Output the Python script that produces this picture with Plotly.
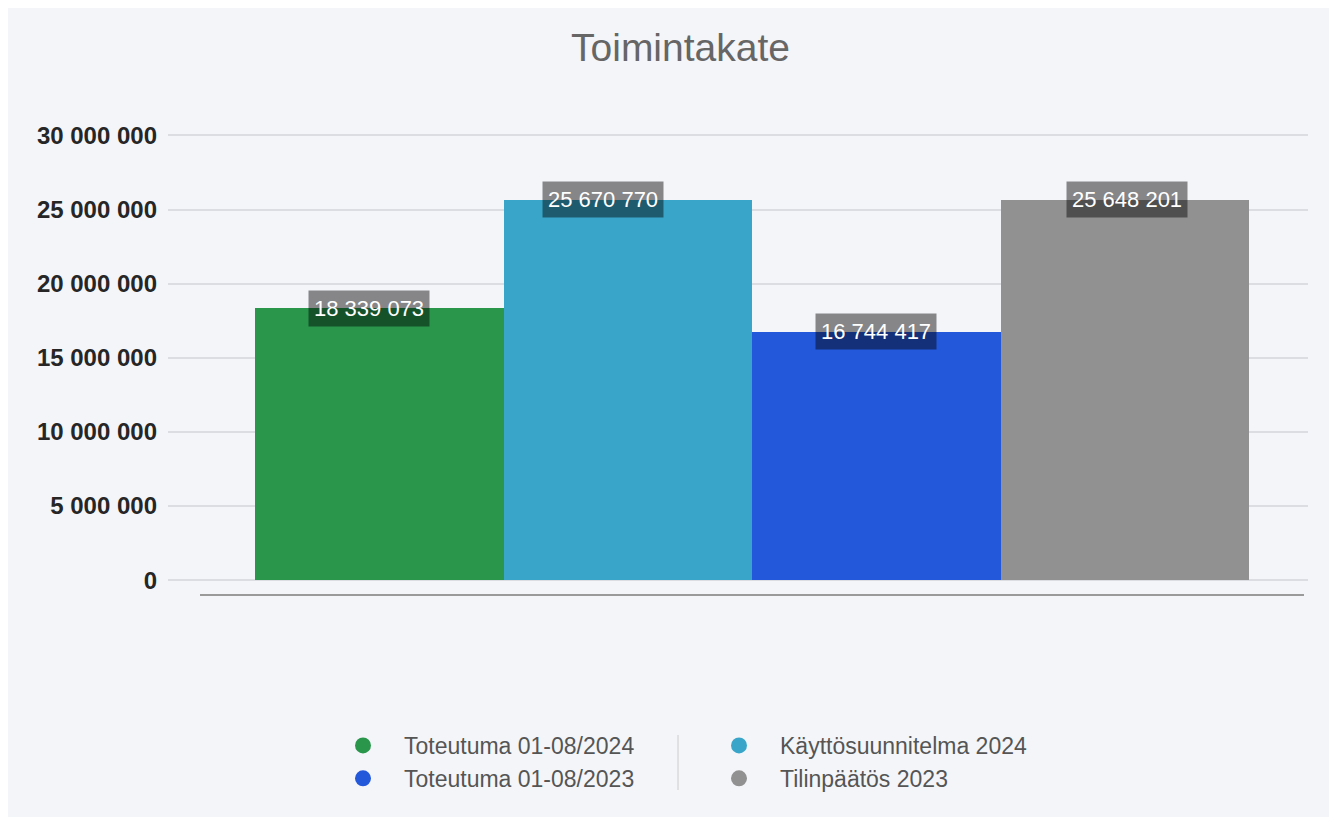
import plotly.graph_objects as go

series = ["Toteutuma 01-08/2024", "Käyttösuunnitelma 2024", "Toteutuma 01-08/2023", "Tilinpäätös 2023"]
values = [18339073, 25670770, 16744417, 25648201]
colors = ["#29964c", "#39a6c9", "#2458db", "#919191"]
legend_groups = ["legend", "legend2", "legend", "legend2"]
label_xshift = [-10, -25, 0, 2]
tick_vals = [0, 5000000, 10000000, 15000000, 20000000, 25000000, 30000000]

def fmt(v):
    return f"{v:,}".replace(",", " ")

FONT = "Liberation Sans, Arial"

fig = go.Figure()
for name, v, c in zip(series, values, colors):
    fig.add_trace(go.Bar(x=[name], y=[v], marker=dict(color=c, line=dict(width=0)),
                         showlegend=False, name=name, hoverinfo="skip"))

# legend entries (circle markers)
order = [0, 2, 1, 3]
for i in order:
    fig.add_trace(go.Scatter(x=[series[i]], y=[None], mode="markers", name=series[i],
                             marker=dict(color=colors[i], size=20, symbol="circle"),
                             legend=legend_groups[i], hoverinfo="skip"))

for name, v, sh in zip(series, values, label_xshift):
    fig.add_annotation(x=name, y=v, text=fmt(v), showarrow=False, xshift=sh,
                       yanchor="middle", font=dict(color="white", size=22, family=FONT),
                       bgcolor="rgba(0,0,0,0.45)", borderpad=5)

legend_common = dict(orientation="v", xref="container", yref="container", xanchor="left",
                     y=1 - 716 / 817, yanchor="top", font=dict(size=23, color="#555", family=FONT),
                     bgcolor="rgba(0,0,0,0)", itemwidth=72, tracegroupgap=0)

# plot area: x 168..1308, y 128..595 on screen (page has an 8px offset)
L, T = 160, 120
PW, PH = 1140, 467

fig.update_layout(
    width=1337, height=817,
    margin=dict(l=L, r=1337 - L - PW, t=T, b=817 - T - PH, autoexpand=False),
    paper_bgcolor="#f4f5f9", plot_bgcolor="#f4f5f9",
    bargap=0, barmode="group",
    separators=", ",
    font=dict(family=FONT, color="#555"),
    title=dict(text="Toimintakate", x=0.503, xanchor="center", y=1 - 39 / 817, yanchor="middle",
               font=dict(size=39, color="#666", family=FONT)),
    xaxis=dict(type="category", categoryorder="array", categoryarray=series,
               showticklabels=False, showgrid=False, zeroline=False, showline=False,
               range=[-0.85, 3.737], fixedrange=True, automargin=False),
    yaxis=dict(range=[-1000000, 30500000], tickvals=tick_vals, tickformat=",d",
               tickfont=dict(size=24, color="#262626", family=FONT, weight="bold"),
               showgrid=True, gridcolor="#dcdde2", gridwidth=1.5,
               zeroline=True, zerolinecolor="#dcdde2", zerolinewidth=1.5,
               showline=False, ticklabelstandoff=10, automargin=False),
    legend=dict(x=314 / 1337, **legend_common),
    legend2=dict(x=690 / 1337, **legend_common),
    shapes=[
        dict(type="line", xref="paper", yref="paper", x0=(200 - 168) / PW, x1=(1304 - 168) / PW,
             y0=0, y1=0, line=dict(color="#9a9a9a", width=2)),
        dict(type="line", xref="paper", yref="paper", x0=(678 - 168) / PW, x1=(678 - 168) / PW,
             y0=(595 - 735) / PH, y1=(595 - 790) / PH, line=dict(color="#cccccc", width=1)),
    ],
)

fig.write_html("out.html")
